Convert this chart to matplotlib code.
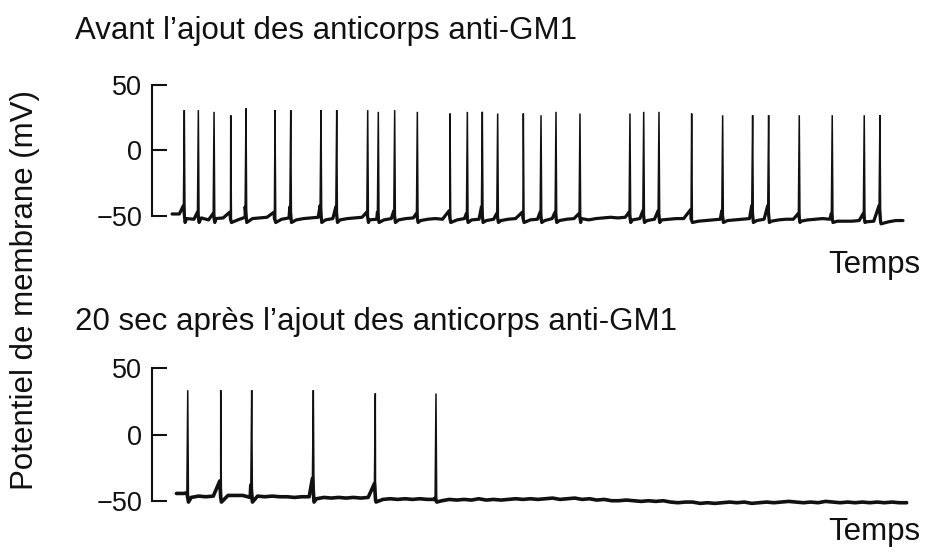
import numpy as np
import matplotlib
matplotlib.use("Agg")
import matplotlib.pyplot as plt

plt.rcParams['font.family'] = ['Liberation Sans', 'DejaVu Sans']

# ---------------- data ----------------
title_top = "Avant l\u2019ajout des anticorps anti-GM1"
title_bottom = "20 sec apr\u00e8s l\u2019ajout des anticorps anti-GM1"
xlabel = "Temps"
ylabel = "Potentiel de membrane (mV)"
yticks = [-50, 0, 50]

# top trace: baseline samples (time units, mV)
top_base_t = np.arange(0, 101)
top_base_v = [-48.5, -48.5, -52, -52.5, -51.5, -53, -52, -51.5, -52.5, -53,
              -51, -52, -51.5, -51, -52, -52.5, -51.5, -53, -52, -51.5,
              -51, -53, -52, -53, -52, -51.5, -51, -53, -52.5, -53,
              -52, -53, -52, -51.5, -53.5, -52.5, -52, -52.5, -51.5, -53,
              -52, -53, -52.5, -53.5, -52.5, -53.5, -52.5, -52, -51.5, -53,
              -52.5, -53.5, -52, -53.5, -52.5, -52, -52, -53, -52, -51.5,
              -51, -51.5, -51, -53, -52, -53.5, -52.5, -53, -52.5, -52,
              -52, -52, -54, -53.5, -53, -52.5, -53.5, -53, -52.5, -52,
              -53.5, -52.5, -54, -53, -52.5, -52.5, -54, -53, -52.5, -52,
              -52.5, -54, -54, -54, -53.5, -54.5, -54, -56, -54.5, -53.5,
              -53.5]
top_spike_t = [1.68, 3.6, 5.75, 8.03, 10.12, 14.09, 16.24, 20.38, 22.53, 26.77,
               28.22, 30.46, 33.56, 38.03, 40.4, 42.45, 44.55, 48.06, 50.48, 52.53,
               55.81, 62.65, 64.53, 66.62, 71.09, 75.33, 79.43, 81.62, 85.81, 90.32,
               94.7, 96.85]
top_spike_peak = [30.8, 30.8, 29.5, 26.9, 32.1, 30.8, 30.8, 30.8, 30.8, 30.8,
                  29.5, 30.8, 29.5, 28.2, 29.5, 29.5, 28.2, 28.2, 26.9, 29.5,
                  28.2, 28.2, 29.5, 29.5, 28.2, 26.9, 26.9, 26.9, 26.9, 26.9,
                  26.9, 26.9]
top_spike_onset = [-42, -47, -48, -47, -43, -47, -43, -42, -43, -47,
                   -47, -46, -48, -46, -48, -43, -48, -47, -47, -47,
                   -48, -47, -46, -46, -45, -46, -42, -42, -48, -48,
                   -48, -42]
top_ahp = -55

# bottom trace
bot_base_t = np.linspace(0.6, 100.5, 100)
bot_base_v = [-44.5, -44.5, -47.5, -46.5, -47, -46.5, -47.5, -46, -46, -46,
              -47.5, -46.5, -47, -46.5, -47, -47, -47.5, -47, -47, -48.5,
              -47.5, -48, -47.5, -48, -47.5, -48, -47.5, -49.5, -49, -48.5,
              -49, -48.5, -49, -48.5, -49, -49, -50, -49, -49.5, -49,
              -49.5, -48.5, -49.5, -49, -49.5, -49, -48.5, -49, -48.5, -49,
              -48.5, -48, -49, -48.5, -48, -49, -48.5, -49.5, -49, -50,
              -50, -49.5, -50, -50.5, -50, -50.5, -50, -51, -51.5, -51,
              -51, -52, -51.5, -52, -51.5, -51, -51.5, -51, -52, -51.5,
              -51, -51.5, -51, -50.5, -51, -51.5, -51, -51.5, -50.5, -51,
              -51.5, -51, -51.5, -51, -51.5, -51, -51.5, -51, -51.5, -51.5]
bot_spike_t = [2.15, 6.66, 10.9, 19.33, 27.81, 36.11]
bot_spike_peak = [33.5, 33.5, 33.5, 33.5, 31, 31]
bot_spike_onset = [-44, -35, -38, -33, -37, -48]
bot_ahp = -51


def build(bt, bv, st, sp, so, ahp, with_peaks):
    t = list(bt)
    v = list(bv)
    for ts, pk, on in zip(st, sp, so):
        t.append(ts - 0.12); v.append(on)
        if with_peaks:
            t.append(ts); v.append(pk)
        t.append(ts + 0.1); v.append(ahp)
    order = np.argsort(t, kind="stable")
    return np.asarray(t)[order], np.asarray(v)[order]


W, H = 929, 552
fig = plt.figure(figsize=(W / 100, H / 100), dpi=100)

col = "#111111"


def setup(ax):
    for s in ["top", "right", "bottom"]:
        ax.spines[s].set_visible(False)
    ax.spines["left"].set_bounds(-50, 50)
    ax.spines["left"].set_linewidth(1.5)
    ax.spines["left"].set_color(col)
    ax.set_yticks(yticks)
    ax.set_xticks([])
    ax.tick_params(axis="y", direction="in", length=11, width=1.5,
                   pad=7, labelsize=19.5, colors=col)
    ax.set_xlim(-2.74, 100.96)
    ax.set_ylim(-62, 52)


ax1 = fig.add_axes([152 / W, 0.5803, 758 / W, 0.2705])
ax2 = fig.add_axes([152 / W, 0.0641, 758 / W, 0.2734])
for ax in (ax1, ax2):
    setup(ax)

for ax, lw, data in ((ax1, 2.3, (top_base_t, top_base_v, top_spike_t, top_spike_peak, top_spike_onset, top_ahp)),
                     (ax2, 2.6, (bot_base_t, bot_base_v, bot_spike_t, bot_spike_peak, bot_spike_onset, bot_ahp))):
    tt, vv = build(*data, with_peaks=True)
    ax.plot(tt, vv, color=col, lw=1.1, solid_joinstyle="miter", clip_on=False)
    tt, vv = build(*data, with_peaks=False)
    ax.plot(tt, vv, color=col, lw=lw, solid_joinstyle="round",
            solid_capstyle="round", clip_on=False)

fig.text(75 / W, 1 - 39 / H, title_top, fontsize=22.5, va="baseline", ha="left", color=col)
fig.text(75 / W, 1 - 330 / H, title_bottom, fontsize=22.5, va="baseline", ha="left", color=col)
fig.text(920 / W, 1 - 273 / H, xlabel, fontsize=22.5, va="baseline", ha="right", color=col)
fig.text(920 / W, 1 - 540 / H, xlabel, fontsize=22.5, va="baseline", ha="right", color=col)
fig.text(25 / W, 1 - 290 / H, ylabel, fontsize=22.5, rotation=90, va="center", ha="center", color=col)

fig.savefig("out.png", dpi=100)
